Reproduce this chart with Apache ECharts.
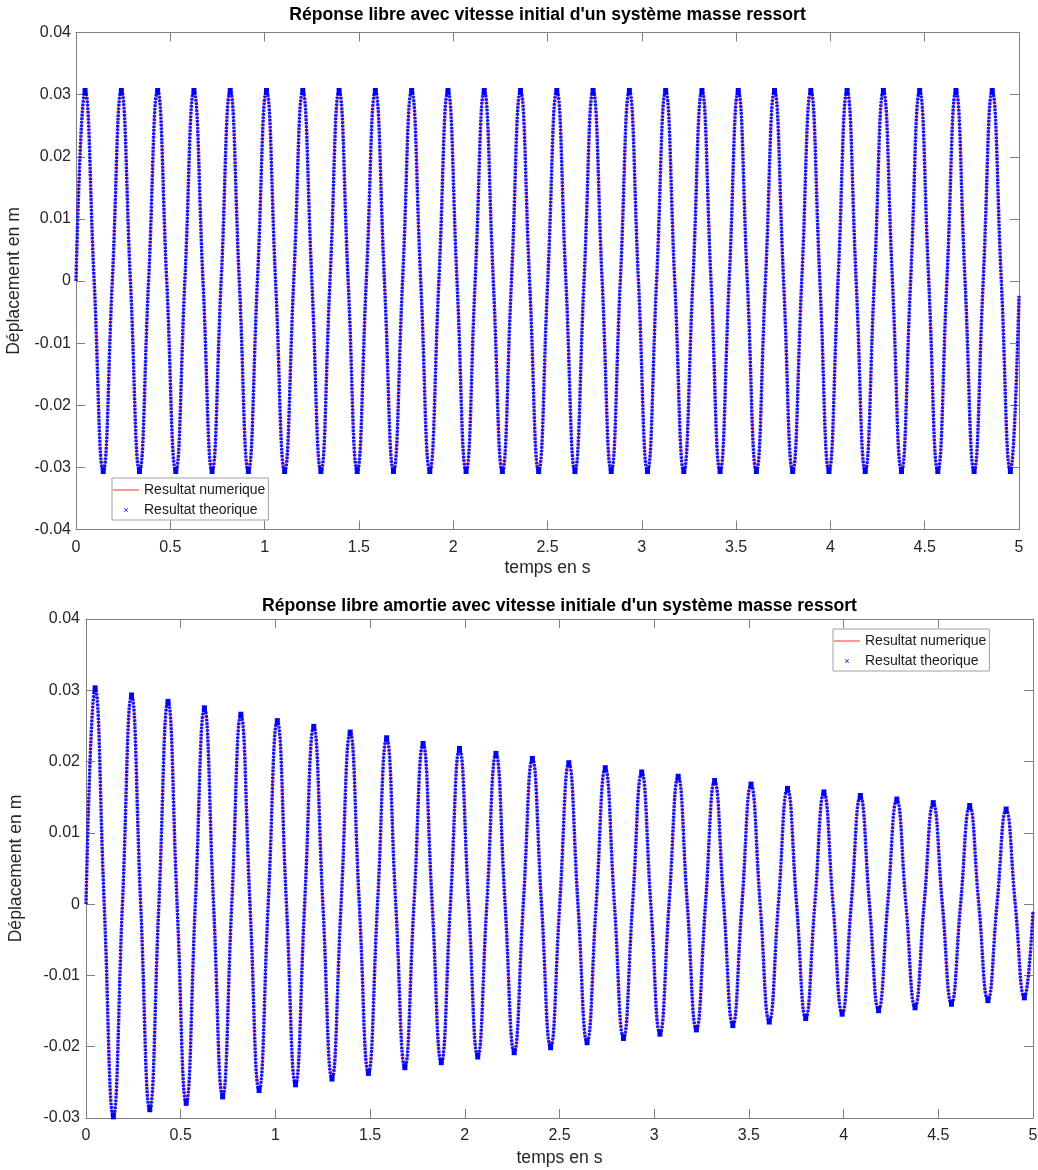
<!DOCTYPE html>
<html>
<head>
<meta charset="utf-8">
<script src="https://cdn.jsdelivr.net/npm/echarts@6/dist/echarts.min.js"></script>
<style>
html,body{margin:0;padding:0;background:#fff;}
#c{width:1038px;height:1170px;}
</style>
</head>
<body>
<div id="c"></div>
<script>
// ---- data ----
const titreLibre = "Réponse libre avec vitesse initial d'un système masse ressort";
const titreAmorti = "Réponse libre amortie avec vitesse initiale d'un système masse ressort";
const nomX = "temps en s";
const nomY = "Déplacement en m";
const nomNumerique = "Resultat numerique";
const nomTheorique = "Resultat theorique";

// time samples at zero crossings and extrema (s)
const temps = [
  0, 0.0481, 0.0962, 0.1443, 0.1924, 0.2405, 0.2886, 0.3367, 0.3848, 0.4329,
  0.481, 0.5291, 0.5772, 0.6253, 0.6734, 0.7215, 0.7696, 0.8177, 0.8658, 0.9139,
  0.962, 1.0101, 1.0582, 1.1063, 1.1544, 1.2025, 1.2506, 1.2987, 1.3468, 1.3949,
  1.443, 1.4911, 1.5392, 1.5873, 1.6354, 1.6835, 1.7316, 1.7797, 1.8278, 1.8759,
  1.924, 1.9721, 2.0202, 2.0683, 2.1164, 2.1645, 2.2126, 2.2607, 2.3088, 2.3569,
  2.405, 2.4531, 2.5012, 2.5493, 2.5974, 2.6455, 2.6936, 2.7417, 2.7898, 2.8379,
  2.886, 2.9341, 2.9822, 3.0303, 3.0784, 3.1265, 3.1746, 3.2227, 3.2708, 3.3189,
  3.367, 3.4151, 3.4632, 3.5113, 3.5594, 3.6075, 3.6556, 3.7037, 3.7518, 3.7999,
  3.848, 3.8961, 3.9442, 3.9923, 4.0404, 4.0885, 4.1366, 4.1847, 4.2328, 4.2809,
  4.329, 4.3771, 4.4252, 4.4733, 4.5214, 4.5695, 4.6176, 4.6657, 4.7138, 4.7619,
  4.81, 4.8581, 4.9062, 4.9543, 5.0
];

// undamped response (m)
const deplacementLibre = [
  0, 0.0305, 0, -0.0305,  0, 0.0305, 0, -0.0305,  0, 0.0305, 0, -0.0305,
  0, 0.0305, 0, -0.0305,  0, 0.0305, 0, -0.0305,  0, 0.0305, 0, -0.0305,
  0, 0.0305, 0, -0.0305,  0, 0.0305, 0, -0.0305,  0, 0.0305, 0, -0.0305,
  0, 0.0305, 0, -0.0305,  0, 0.0305, 0, -0.0305,  0, 0.0305, 0, -0.0305,
  0, 0.0305, 0, -0.0305,  0, 0.0305, 0, -0.0305,  0, 0.0305, 0, -0.0305,
  0, 0.0305, 0, -0.0305,  0, 0.0305, 0, -0.0305,  0, 0.0305, 0, -0.0305,
  0, 0.0305, 0, -0.0305,  0, 0.0305, 0, -0.0305,  0, 0.0305, 0, -0.0305,
  0, 0.0305, 0, -0.0305,  0, 0.0305, 0, -0.0305,  0, 0.0305, 0, -0.0305,
  0, 0.0305, 0, -0.0305,  0, 0.0305, 0, -0.0305,
  -0.0024
];

// damped response (m)
const deplacementAmorti = [
  0, 0.0302, 0, -0.0297,  0, 0.0292, 0, -0.0287,  0, 0.0283, 0, -0.0278,
  0, 0.0274, 0, -0.0269,  0, 0.0265, 0, -0.026,   0, 0.0256, 0, -0.0252,
  0, 0.0248, 0, -0.0244,  0, 0.024, 0, -0.0236,   0, 0.0232, 0, -0.0228,
  0, 0.0224, 0, -0.0221,  0, 0.0217, 0, -0.0213,  0, 0.021, 0, -0.0207,
  0, 0.0203, 0, -0.02,    0, 0.0197, 0, -0.0193,  0, 0.019, 0, -0.0187,
  0, 0.0184, 0, -0.0181,  0, 0.0178, 0, -0.0175,  0, 0.0172, 0, -0.0169,
  0, 0.0167, 0, -0.0164,  0, 0.0161, 0, -0.0159,  0, 0.0156, 0, -0.0153,
  0, 0.0151, 0, -0.0148,  0, 0.0146, 0, -0.0144,  0, 0.0141, 0, -0.0139,
  0, 0.0137, 0, -0.0134,  0, 0.0132, 0, -0.013,
  -0.001
];

// tick values
const ticksX = [0, 0.5, 1, 1.5, 2, 2.5, 3, 3.5, 4, 4.5, 5];
const ticksYLibre = [-0.04, -0.03, -0.02, -0.01, 0, 0.01, 0.02, 0.03, 0.04];
const ticksYAmorti = [-0.03, -0.02, -0.01, 0, 0.01, 0.02, 0.03, 0.04];

// ---- chart ----
const FONT = "'Liberation Sans', Arial, Helvetica, sans-serif";
const AXIS_COLOR = '#808080';
const LABEL_COLOR = '#262626';
const paire = (ys) => temps.map((t, i) => [t, ys[i]]);

const grids = [
  { left: 76, top: 32.5, width: 943, height: 497, containLabel: false, outerBoundsMode: 'none' },
  { left: 86, top: 619, width: 947, height: 499, containLabel: false, outerBoundsMode: 'none' }
];

function xAxe(gi, main) {
  return {
    type: 'value', gridIndex: gi, position: main ? 'bottom' : 'top',
    min: ticksX[0], max: ticksX[ticksX.length - 1], interval: 0.5,
    name: main ? nomX : '', nameLocation: 'middle', nameGap: gi === 0 ? 30 : 31,
    nameTextStyle: { fontFamily: FONT, fontSize: 17.6, color: LABEL_COLOR },
    axisLine: { show: true, onZero: false, lineStyle: { color: AXIS_COLOR, width: 1 } },
    axisTick: { show: true, inside: true, length: 9, customValues: ticksX, lineStyle: { color: AXIS_COLOR } },
    axisLabel: { show: main, margin: 10, customValues: ticksX, fontFamily: FONT, fontSize: 16, color: LABEL_COLOR },
    splitLine: { show: false }
  };
}
function yAxe(gi, main, ticks, gap, margin) {
  return {
    type: 'value', gridIndex: gi, position: main ? 'left' : 'right',
    min: ticks[0], max: ticks[ticks.length - 1], interval: 0.01,
    name: main ? nomY : '', nameLocation: 'middle', nameGap: gap, nameRotate: 90,
    nameTextStyle: { fontFamily: FONT, fontSize: 17.6, color: LABEL_COLOR },
    axisLine: { show: true, onZero: false, lineStyle: { color: AXIS_COLOR, width: 1 } },
    axisTick: { show: true, inside: true, length: 9, customValues: ticks, lineStyle: { color: AXIS_COLOR } },
    axisLabel: { show: main, margin: margin, customValues: ticks, fontFamily: FONT, fontSize: 16, color: LABEL_COLOR },
    splitLine: { show: false }
  };
}

const xIcon = 'path://M0,1L1,0L5,4L9,0L10,1L6,5L10,9L9,10L5,6L1,10L0,9L4,5Z';
function legende(left, top) {
  return {
    orient: 'vertical', left: left, top: top,
    padding: [5, 3, 3, 1], itemGap: 6, itemWidth: 26, itemHeight: 4,
    backgroundColor: '#ffffff', borderColor: '#a0a0a0', borderWidth: 1,
    lineStyle: { width: 1 },
    textStyle: { fontFamily: FONT, fontSize: 14, color: '#1a1a1a', padding: [0, 0, 0, 0] },
    data: [{ name: nomNumerique, icon: 'path://M0,0L26,0L26,1L0,1Z' }, { name: nomTheorique, icon: xIcon }],
    selectedMode: false
  };
}

function seriesPour(gi, ys) {
  const data = paire(ys);
  return [
    {
      name: nomNumerique, type: 'line', xAxisIndex: gi * 2, yAxisIndex: gi * 2,
      data: data, smooth: true, symbol: 'none', z: 2,
      lineStyle: { color: '#ff2020', width: 1 }, itemStyle: { color: '#ff3030' }
    },
    {
      name: nomTheorique, type: 'line', xAxisIndex: gi * 2, yAxisIndex: gi * 2,
      data: data, smooth: true, z: 3,
      symbol: 'rect', showSymbol: true,
      symbolSize: (v, p) => (p.dataIndex % 2 === 1 ? [5, 7] : 0),
      lineStyle: { color: '#1414ff', width: 3.4, type: [2.4, 1.1] },
      itemStyle: { color: '#0000ff' }
    }
  ];
}

const option = {
  animation: false,
  backgroundColor: '#ffffff',
  textStyle: { fontFamily: FONT },
  title: [
    { text: titreLibre, left: 547.5, top: 6, textAlign: 'center', padding: 0,
      textStyle: { fontFamily: FONT, fontSize: 17.6, fontWeight: 'bold', color: '#000' } },
    { text: titreAmorti, left: 559.5, top: 597, textAlign: 'center', padding: 0,
      textStyle: { fontFamily: FONT, fontSize: 17.6, fontWeight: 'bold', color: '#000' } }
  ],
  grid: grids,
  xAxis: [xAxe(0, true), xAxe(0, false), xAxe(1, true), xAxe(1, false)],
  yAxis: [
    yAxe(0, true, ticksYLibre, 48, 5), yAxe(0, false, ticksYLibre, 0, 5),
    yAxe(1, true, ticksYAmorti, 61, 6), yAxe(1, false, ticksYAmorti, 0, 6)
  ],
  legend: [legende(112, 478), legende(833, 629)],
  series: [...seriesPour(0, deplacementLibre), ...seriesPour(1, deplacementAmorti)]
};

const chart = echarts.init(document.getElementById('c'), null, { renderer: 'canvas' });
chart.setOption(option);
</script>
</body>
</html>
